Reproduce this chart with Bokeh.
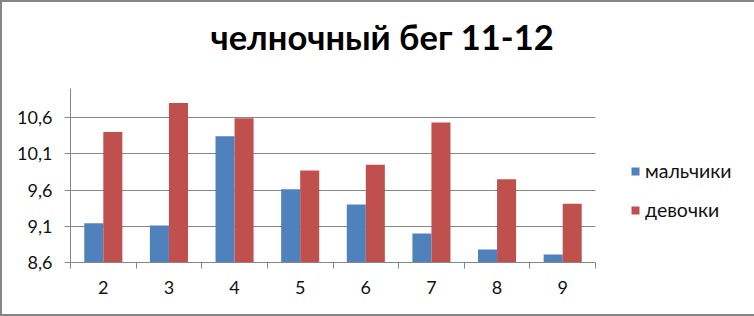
from bokeh.plotting import figure
from bokeh.models import (Range1d, FixedTicker, ColumnDataSource, Legend, LegendItem,
                          Title, CustomJSTickFormatter)
from bokeh.transform import dodge
from bokeh.embed import file_html
from bokeh.resources import INLINE

title_text = "челночный бег 11-12"
categories = ["2", "3", "4", "5", "6", "7", "8", "9"]
boys = [9.14, 9.11, 10.34, 9.61, 9.40, 9.00, 8.78, 8.71]
girls = [10.40, 10.80, 10.59, 9.87, 9.95, 10.53, 9.75, 9.41]
series_names = ["мальчики", "девочки"]
y_ticks = [8.6, 9.1, 9.6, 10.1, 10.6]
y_min, y_max = 8.6, 11.0

BLUE = "#4F81BD"
RED = "#C0504D"
GRAY = "#868686"
FONT = "Lato"

pos = list(range(1, len(categories) + 1))
src = ColumnDataSource(dict(x=pos, cat=categories, boys=boys, girls=girls))

p = figure(frame_width=525, frame_height=174, output_backend="svg", toolbar_location=None,
           x_range=Range1d(0.5, len(categories) + 0.5), y_range=Range1d(y_min, y_max),
           min_border_left=68, min_border_right=157, min_border_top=86, min_border_bottom=52,
           styles={"border": "2px solid " + GRAY})
p.outline_line_color = None
p.background_fill_color = "white"
p.border_fill_color = "white"

bw = 0.29
r1 = p.vbar(x=dodge("x", -0.145, range=p.x_range), top="boys", bottom=y_min, width=bw,
            source=src, fill_color=BLUE, line_color=None)
r2 = p.vbar(x=dodge("x", 0.145, range=p.x_range), top="girls", bottom=y_min, width=bw,
            source=src, fill_color=RED, line_color=None)

# x axis
xa = p.xaxis[0]
xa.ticker = FixedTicker(ticks=pos, minor_ticks=[x - 0.5 for x in pos] + [pos[-1] + 0.5])
xa.formatter = CustomJSTickFormatter(args=dict(labels=categories),
                                     code="return labels[Math.round(tick) - 1];")
xa.major_tick_out = 0
xa.major_tick_in = 0
xa.minor_tick_out = 6
xa.minor_tick_in = 0
xa.minor_tick_line_color = GRAY
xa.axis_line_color = GRAY
xa.major_label_text_font = FONT
xa.major_label_text_font_size = "18px"
xa.major_label_text_color = "#111111"
xa.major_label_standoff = 12

# y axis
ya = p.yaxis[0]
ya.ticker = FixedTicker(ticks=y_ticks, minor_ticks=[])
ya.formatter = CustomJSTickFormatter(code="return tick.toFixed(1).replace('.', ',');")
ya.major_tick_out = 6
ya.major_tick_in = 0
ya.minor_tick_out = 0
ya.minor_tick_in = 0
ya.major_tick_line_color = GRAY
ya.axis_line_color = GRAY
ya.major_label_text_font = FONT
ya.major_label_text_font_size = "18px"
ya.major_label_text_color = "#111111"
ya.major_label_standoff = 12

p.xgrid.grid_line_color = None
p.ygrid.ticker = FixedTicker(ticks=y_ticks)
p.ygrid.grid_line_color = GRAY

legend = Legend(items=[LegendItem(label=series_names[0], renderers=[r1]),
                       LegendItem(label=series_names[1], renderers=[r2])],
                location=(35, 41), orientation="vertical")
legend.padding = 0
legend.margin = 0
legend.border_line_color = None
legend.background_fill_alpha = 0
legend.glyph_width = 10
legend.glyph_height = 10
legend.label_height = 22
legend.spacing = 16
legend.label_standoff = 5
legend.label_text_font = FONT
legend.label_text_font_size = "19.5px"
legend.label_text_color = "#111111"
p.add_layout(legend, "right")

spacer = Title(text=" ", standoff=16, text_font=FONT, text_font_size="10px")
p.add_layout(spacer, "above")
title = Title(text=title_text, align="left", offset=140, standoff=4,
              text_font=FONT, text_font_style="bold", text_font_size="34.5px",
              text_color="black")
p.add_layout(title, "above")

open("out.html", "w").write(file_html(p, INLINE))
